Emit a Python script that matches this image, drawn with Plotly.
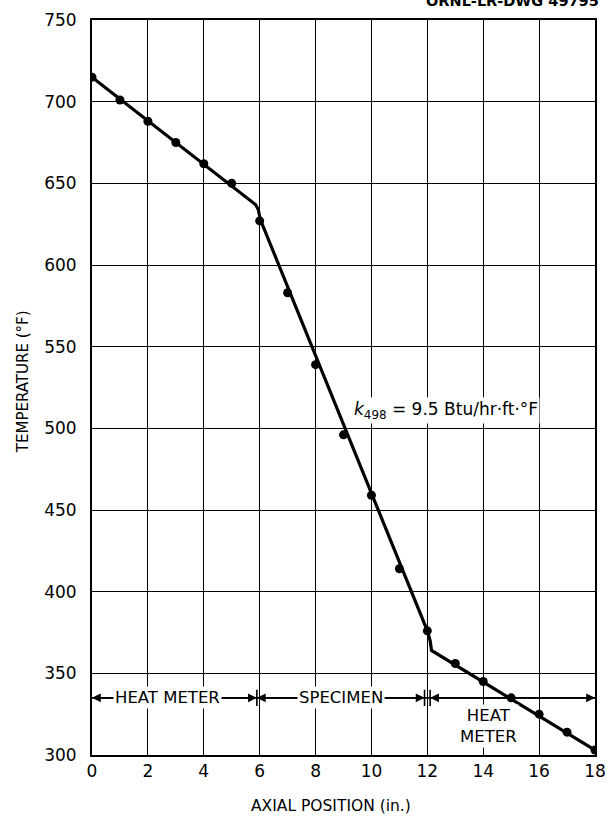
import plotly.graph_objects as go

# measured points
pos_in = [0, 1, 2, 3, 4, 5, 6, 7, 8, 9, 10, 11, 12, 13, 14, 15, 16, 17, 18]
temp_f = [715, 701, 688, 675, 662, 650, 627, 583, 539, 496, 459, 414, 376, 356, 345, 335, 325, 314, 303]

# drawn fit line (heat meter / specimen / heat meter)
fit_x = [0, 5.85, 5.95, 6.02, 12.0, 12.1, 12.15, 18]
fit_y = [715, 637, 634, 628, 376, 370, 364, 303]

x_ticks = [0, 2, 4, 6, 8, 10, 12, 14, 16, 18]
y_ticks = [300, 350, 400, 450, 500, 550, 600, 650, 700, 750]

# zone bar
zone_y = 335
zones = [(0, 5.9), (5.9, 11.9), (12.1, 18)]
zone_labels = ["HEAT METER", "SPECIMEN", "HEAT<br>METER"]
zone_label_x = [2.7, 8.9, 14.2]
zone_label_y = [335, 335, 318]
bar_x = [5.9, 11.9, 12.1]

FONT = "DejaVu Sans"

fig = go.Figure()
fig.add_trace(go.Scatter(x=fit_x, y=fit_y, mode="lines",
                         line=dict(color="black", width=3.2), hoverinfo="skip"))
fig.add_trace(go.Scatter(x=pos_in, y=temp_f, mode="markers",
                         marker=dict(color="black", size=9)))

annotations = []
# arrows
for (a, b), lx in zip(zones, zone_label_x):
    mid = (a + b) / 2
    for end in (a, b):
        annotations.append(dict(x=end, y=zone_y, ax=mid, ay=zone_y, xref="x", yref="y",
                                axref="x", ayref="y", text="", showarrow=True,
                                arrowhead=2, arrowsize=1.1, arrowwidth=1.6, arrowcolor="black",
                                standoff=0, startstandoff=0))
for t, lx, ly in zip(zone_labels, zone_label_x, zone_label_y):
    annotations.append(dict(x=lx, y=ly, xref="x", yref="y", text=t, showarrow=False,
                            bgcolor="white", borderpad=1,
                            font=dict(family=FONT, size=16.5, color="black")))

annotations.append(dict(x=12.65, y=511, xref="x", yref="y",
                        text="<i>k</i><sub>498</sub> = 9.5 Btu/hr·ft·°F", showarrow=False,
                        bgcolor="white", borderpad=1,
                        font=dict(family=FONT, size=17, color="black")))
annotations.append(dict(x=(613 - 92) / 515, y=1 + (19 - 10) / 736, xref="paper", yref="paper",
                        xanchor="right", yanchor="bottom",
                        text="<b>ORNL-LR-DWG 49795</b>", showarrow=False,
                        font=dict(family=FONT, size=14.5, color="black")))
annotations.append(dict(x=(21 - 92) / 515, y=(755 - 381) / 736, xref="paper", yref="paper",
                        xanchor="center", yanchor="middle",
                        text="TEMPERATURE (°F)", textangle=-90, showarrow=False,
                        font=dict(family=FONT, size=15, color="black")))
annotations.append(dict(x=(337 - 92) / 515, y=(755 - 806) / 736, xref="paper", yref="paper",
                        xanchor="center", yanchor="middle",
                        text="AXIAL POSITION (in.)", showarrow=False,
                        font=dict(family=FONT, size=15.5, color="black")))

shapes = [dict(type="line", xref="x", yref="y", x0=0, x1=18, y0=zone_y, y1=zone_y,
               line=dict(color="black", width=1.6), layer="above")]
for bx in bar_x:
    shapes.append(dict(type="line", xref="x", yref="y", x0=bx, x1=bx, y0=zone_y - 5, y1=zone_y + 5,
                       line=dict(color="black", width=1.6)))

fig.update_layout(
    width=616, height=818,
    margin=dict(l=92, r=10, t=19, b=63),
    paper_bgcolor="white", plot_bgcolor="white",
    showlegend=False,
    annotations=annotations,
    shapes=shapes,
    font=dict(family=FONT, color="black"),
)
fig.update_xaxes(range=[0, 18], tickvals=x_ticks, ticktext=[str(v) for v in x_ticks],
                 showgrid=True, gridcolor="black", gridwidth=1.3,
                 showline=True, linecolor="black", linewidth=2, mirror=True,
                 zeroline=False, ticks="", ticklabelstandoff=0,
                 tickfont=dict(family=FONT, size=17, color="black"))
fig.update_yaxes(range=[300, 750], tickvals=y_ticks, ticktext=[str(v) for v in y_ticks],
                 showgrid=True, gridcolor="black", gridwidth=1.3,
                 showline=True, linecolor="black", linewidth=2, mirror=True,
                 zeroline=False, ticks="", ticklabelstandoff=10,
                 tickfont=dict(family=FONT, size=17, color="black"))

fig.write_html("out.html", config={"displayModeBar": False},
               post_script="document.body.style.margin='0';document.body.style.overflow='hidden';")
